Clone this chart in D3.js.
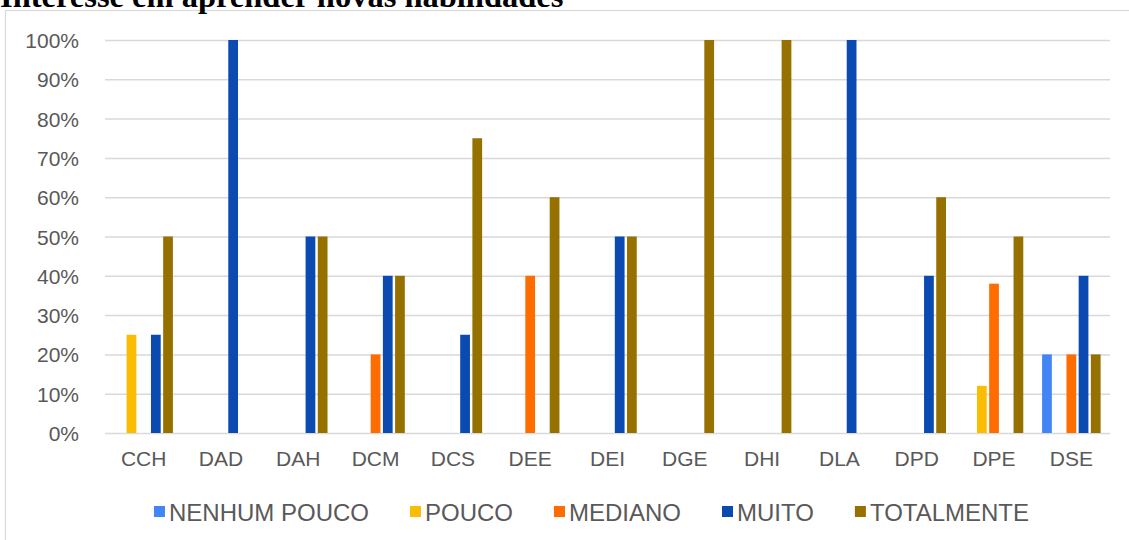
<!DOCTYPE html>
<html>
<head>
<meta charset="utf-8">
<script src="https://cdn.jsdelivr.net/npm/d3@7"></script>
<style>
  html, body { margin: 0; padding: 0; background: #fff; }
  svg { display: block; }
</style>
</head>
<body>
<svg id="chart" width="1129" height="540"></svg>
<script>
// Units (x-axis categories)
const categories = ["CCH", "DAD", "DAH", "DCM", "DCS", "DEE", "DEI", "DGE", "DHI", "DLA", "DPD", "DPE", "DSE"];

// Answer levels, in legend order
const seriesNames = ["NENHUM POUCO", "POUCO", "MEDIANO", "MUITO", "TOTALMENTE"];
const seriesColors = ["#4285F4", "#FBBC04", "#FF6D01", "#0B4AB0", "#977100"];

// Share of answers per unit (%), one array per level
const nenhumPouco = [0, 0, 0, 0, 0, 0, 0, 0, 0, 0, 0, 0, 20];
const pouco       = [25, 0, 0, 0, 0, 0, 0, 0, 0, 0, 0, 12, 0];
const mediano     = [0, 0, 0, 20, 0, 40, 0, 0, 0, 0, 0, 38, 20];
const muito       = [25, 100, 50, 40, 25, 0, 50, 0, 0, 100, 40, 0, 40];
const totalmente  = [50, 0, 50, 40, 75, 60, 50, 100, 100, 0, 60, 50, 20];

const yTicks = [0, 10, 20, 30, 40, 50, 60, 70, 80, 90, 100];

const seriesValues = [nenhumPouco, pouco, mediano, muito, totalmente];

const svg = d3.select("#chart");

// Chart frame
svg.append("rect")
  .attr("x", 5.5).attr("y", 10.5)
  .attr("width", 1200).attr("height", 600)
  .attr("fill", "#fff")
  .attr("stroke", "#d9d9d9")
  .attr("stroke-width", 1.2);

// Title (partly above the frame)
svg.append("text")
  .attr("x", 0).attr("y", 7)
  .attr("font-family", "'Liberation Serif', 'Times New Roman', serif")
  .attr("font-weight", "bold")
  .attr("font-size", 32.5)
  .attr("fill", "#000")
  .text("Interesse em aprender novas habilidades");

const plot = { left: 105, right: 1110, top: 40, bottom: 433 };

const x = d3.scaleBand()
  .domain(categories)
  .range([plot.left, plot.right])
  .paddingInner(0).paddingOuter(0);

const xInner = d3.scaleBand()
  .domain(seriesNames)
  .range([0, 58.5])
  .paddingInner(0.2).paddingOuter(0);

const y = d3.scaleLinear()
  .domain([0, 100])
  .range([plot.bottom, plot.top]);

// Horizontal gridlines + y tick labels
const yAxis = d3.axisLeft(y)
  .tickValues(yTicks)
  .tickSize(-(plot.right - plot.left))
  .tickPadding(26)
  .tickFormat(d => d + "%");

const gy = svg.append("g")
  .attr("transform", `translate(${plot.left},0)`)
  .call(yAxis);
gy.select(".domain").remove();
gy.selectAll(".tick line")
  .attr("stroke", "#d9d9d9")
  .attr("stroke-width", 1.5);
gy.selectAll(".tick text")
  .attr("fill", "#595959")
  .attr("font-family", "'Liberation Sans', Arial, sans-serif")
  .attr("font-size", 21)
  .attr("dy", "0.36em");

// Bars
const groupOffset = (x.bandwidth() - xInner.range()[1]) / 2;
const groups = svg.append("g").selectAll("g")
  .data(categories)
  .join("g")
  .attr("transform", c => `translate(${x(c) + groupOffset},0)`);

groups.selectAll("rect")
  .data((c, ci) => seriesNames.map((s, si) => ({ s, si, v: seriesValues[si][ci] })))
  .join("rect")
  .filter(d => d.v > 0)
  .attr("x", d => xInner(d.s))
  .attr("width", xInner.bandwidth())
  .attr("y", d => y(d.v))
  .attr("height", d => y(0) - y(d.v))
  .attr("fill", d => seriesColors[d.si]);

// Category axis
const xAxis = d3.axisBottom(x).tickSize(0).tickPadding(18);
const gx = svg.append("g")
  .attr("transform", `translate(0,${plot.bottom})`)
  .call(xAxis);
gx.select(".domain").remove();
gx.selectAll(".tick text")
  .attr("fill", "#595959")
  .attr("font-family", "'Liberation Sans', Arial, sans-serif")
  .attr("font-size", 21);

// Legend
const legend = svg.append("g");
const items = legend.selectAll("g")
  .data(seriesNames)
  .join("g");
items.append("rect")
  .attr("width", 11).attr("height", 11)
  .attr("y", -15)
  .attr("fill", (d, i) => seriesColors[i]);
items.append("text")
  .attr("x", 15)
  .attr("fill", "#595959")
  .attr("font-family", "'Liberation Sans', Arial, sans-serif")
  .attr("font-size", 24)
  .text(d => d);

const itemGap = 41;
let cursor = 0;
items.each(function () {
  const g = d3.select(this);
  g.attr("transform", `translate(${cursor},0)`);
  const w = 15 + g.select("text").node().getComputedTextLength();
  cursor += w + itemGap;
});
const total = cursor - itemGap;
legend.attr("transform", `translate(${591.5 - total / 2},521)`);
</script>
</body>
</html>
